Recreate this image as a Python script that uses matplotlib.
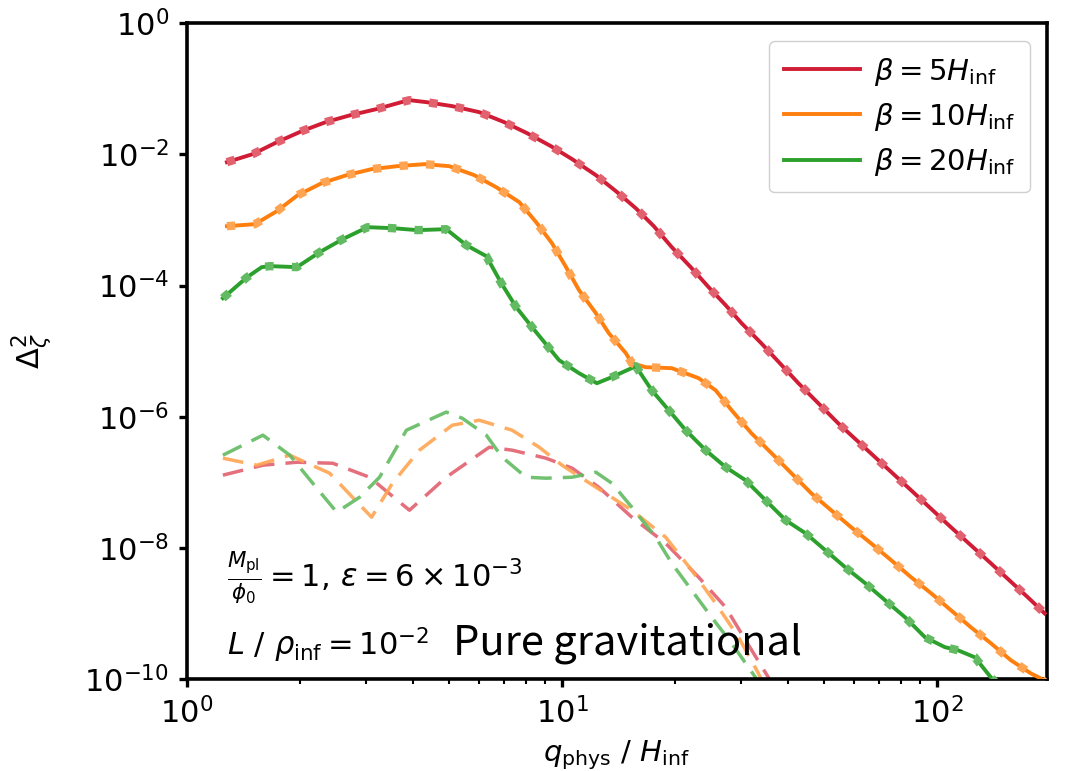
import numpy as np
import matplotlib
matplotlib.use("Agg")
import matplotlib.pyplot as plt
from matplotlib.ticker import NullLocator

# valores
red_x = [1.277, 1.498, 1.735, 2.023, 2.343, 2.730, 3.200, 3.73, 3.918, 4.346, 5.097, 6.013, 7.009, 8.07,
         9.35, 10.64, 12.31, 13.92, 15.73, 17.57, 19.62, 22.04, 24.60, 27.31, 30.12, 34.0, 42.7, 54.5,
         68.4, 85.3, 108.9, 139.2, 174.6, 193.7]
red_y = [7.60e-3, 1.01e-2, 1.53e-2, 2.26e-2, 3.10e-2, 3.96e-2, 4.89e-2, 6.25e-2, 6.70e-2, 6.25e-2, 5.43e-2,
         4.40e-2, 3.10e-2, 2.10e-2, 1.33e-2, 8.45e-3, 4.82e-3, 2.75e-3, 1.51e-3, 8.04e-4, 3.85e-4, 1.91e-4,
         9.46e-5, 5.03e-5, 2.67e-5, 1.32e-5, 3.25e-6, 7.98e-7, 2.42e-7, 7.60e-8, 2.08e-8, 5.86e-9, 1.78e-9,
         1.01e-9]

orange_x = [1.277, 1.517, 1.735, 1.973, 2.286, 2.665, 3.105, 3.640, 4.295, 5.003, 5.834, 6.674, 7.69, 8.53,
            9.40, 10.25, 11.10, 12.31, 13.33, 14.80, 15.35, 16.73, 19.62, 23.14, 25.68, 28.33, 32.0, 36.2,
            40.9, 46.2, 52.2, 59.0, 66.7, 75.5, 85.3, 96.4, 108.9, 123.1, 139.2, 157.4, 177.9, 189.1, 197.0]
orange_y = [8.04e-4, 8.63e-4, 1.36e-3, 2.39e-3, 3.64e-3, 4.82e-3, 5.95e-3, 6.61e-3, 7.09e-3, 6.61e-3, 4.82e-3,
            3.16e-3, 1.87e-3, 9.25e-4, 4.43e-4, 1.91e-4, 8.51e-5, 3.80e-5, 1.88e-5, 9.33e-6, 6.56e-6, 5.70e-6,
            5.51e-6, 3.88e-6, 2.54e-6, 1.26e-6, 5.62e-7, 2.79e-7, 1.38e-7, 6.84e-8, 3.77e-8, 2.08e-8, 1.18e-8,
            6.51e-9, 3.59e-9, 2.05e-9, 1.13e-9, 6.21e-10, 3.54e-10, 1.95e-10, 1.23e-10, 1.03e-10, 8.1e-11]

green_x = [1.246, 1.445, 1.582, 1.663, 1.963, 2.258, 2.600, 3.029, 3.530, 4.113, 4.912, 5.555, 6.280, 6.886,
           7.546, 8.32, 9.82, 11.10, 12.39, 13.58, 15.73, 17.35, 19.26, 21.37, 24.15, 27.31, 30.86, 34.9,
           39.5, 44.6, 50.4, 56.9, 64.4, 72.7, 82.2, 92.9, 105.0, 113.7, 126.2, 139.2, 150.0]
green_y = [6.43e-5, 1.34e-4, 1.91e-4, 1.98e-4, 1.91e-4, 3.23e-4, 5.10e-4, 7.76e-4, 7.50e-4, 7.00e-4, 7.24e-4,
           4.13e-4, 2.81e-4, 1.09e-4, 4.69e-5, 2.32e-5, 7.30e-6, 4.62e-6, 3.25e-6, 4.02e-6, 5.90e-6, 2.54e-6,
           1.26e-6, 6.25e-7, 3.10e-7, 1.71e-7, 1.08e-7, 5.35e-8, 2.65e-8, 1.68e-8, 9.25e-9, 5.10e-9, 2.90e-9,
           1.60e-9, 8.81e-10, 4.37e-10, 3.08e-10, 2.77e-10, 2.16e-10, 1.07e-10, 6.8e-11]

# curvas gravitacionales (discontinuas)
red_gx = [1.246, 1.593, 1.963, 2.445, 3.066, 3.918, 4.912, 6.395, 7.360, 9.06, 10.64, 12.53, 15.35, 18.90,
          23.14, 27.31, 30.86, 35.5, 37.1]
red_gy = [1.29e-7, 1.83e-7, 2.03e-7, 1.96e-7, 1.20e-7, 3.77e-8, 1.20e-7, 3.44e-7, 3.10e-7, 2.34e-7, 1.65e-7,
          8.45e-8, 2.95e-8, 1.18e-8, 3.59e-9, 1.25e-9, 3.94e-10, 1.07e-10, 6.8e-11]

orange_gx = [1.246, 1.535, 1.879, 2.40, 2.762, 3.105, 3.530, 4.166, 5.097, 6.013, 7.360, 8.69, 10.0, 12.31,
             15.35, 18.90, 22.17, 25.68, 29.57, 33.4, 35.1]
orange_gy = [2.34e-7, 1.83e-7, 2.60e-7, 1.38e-7, 5.94e-8, 2.95e-8, 9.73e-8, 3.10e-7, 7.44e-7, 8.87e-7, 6.25e-7,
             3.44e-7, 1.83e-7, 8.45e-8, 3.77e-8, 1.46e-8, 4.59e-9, 1.44e-9, 4.37e-10, 1.23e-10, 6.8e-11]

green_gx = [1.246, 1.593, 1.879, 2.163, 2.506, 2.884, 3.261, 3.846, 4.912, 5.420, 6.280, 6.925, 8.02, 9.06,
            10.64, 12.31, 13.58, 15.35, 17.78, 19.62, 22.17, 25.06, 28.33, 32.8, 34.4]
green_gy = [2.60e-7, 5.25e-7, 2.60e-7, 9.73e-8, 3.52e-8, 5.94e-8, 1.20e-7, 6.25e-7, 1.18e-6, 9.5e-7, 5.25e-7,
            2.42e-7, 1.20e-7, 1.16e-7, 1.20e-7, 1.43e-7, 9.73e-8, 4.19e-8, 1.46e-8, 5.86e-9, 2.27e-9, 8.81e-10,
            3.54e-10, 1.07e-10, 6.8e-11]

etiquetas = [r'$\beta = 5H_{\rm inf}$', r'$\beta = 10H_{\rm inf}$', r'$\beta = 20H_{\rm inf}$']
colores = ['#d01c35', '#ff7f0e', '#2ca02c']
colores_claros = ['#e2616f', '#ffa452', '#62bb62']

fig = plt.figure(figsize=(10.69, 7.71), dpi=100)
ax = fig.add_axes([0.175, 0.119, 0.804, 0.851])

series = [(red_x, red_y, red_gx, red_gy),
          (orange_x, orange_y, orange_gx, orange_gy),
          (green_x, green_y, green_gx, green_gy)]

for (x, y, gx, gy), c, cc, lab in zip(series, colores, colores_claros, etiquetas):
    ax.plot(x, y, color=c, lw=2.8, label=lab, zorder=3)
    ax.plot(x, y, color=cc, lw=6.0, linestyle=(0, (1.0, 2.2)), zorder=4)
    ax.plot(gx, gy, color=cc, lw=2.5, alpha=0.9, linestyle=(0, (6.0, 3.2)), zorder=2)

ax.set_xscale('log')
ax.set_yscale('log')
ax.set_xlim(1, 196)
ax.set_ylim(1e-10, 1)
ax.set_yticks([1e-10, 1e-8, 1e-6, 1e-4, 1e-2, 1e0])
ax.yaxis.set_minor_locator(NullLocator())

for s in ax.spines.values():
    s.set_linewidth(2.6)
ax.tick_params(which='major', length=6, width=2.4, labelsize=22, pad=7)
ax.tick_params(which='minor', length=3.5, width=1.5)

ax.set_xlabel(r'$q_{\rm phys}\ /\ H_{\rm inf}$', fontsize=21, labelpad=6)
ax.set_ylabel(r'$\Delta_\zeta^2$', fontsize=22, labelpad=22)

ax.legend(loc='upper right', fontsize=21, handlelength=2.6, borderpad=0.5,
          labelspacing=0.45, handletextpad=0.5, framealpha=1, edgecolor='#d0d0d0',
          bbox_to_anchor=(0.998, 0.995))

ax.text(0.046, 0.154, r'$\frac{M_{\rm pl}}{\phi_0} = 1,\, \varepsilon = 6\times10^{-3}$',
        transform=ax.transAxes, fontsize=22, ha='left', va='center')
ax.text(0.046, 0.037, r'$L\ /\ \rho_{\rm inf} = 10^{-2}$',
        transform=ax.transAxes, fontsize=22, ha='left', va='baseline')
ax.text(0.309, 0.037, 'Pure gravitational', transform=ax.transAxes, fontsize=30,
        family=['Noto Sans CJK SC', 'DejaVu Sans'], weight='light', ha='left', va='baseline')

fig.savefig('out.png', dpi=100)
